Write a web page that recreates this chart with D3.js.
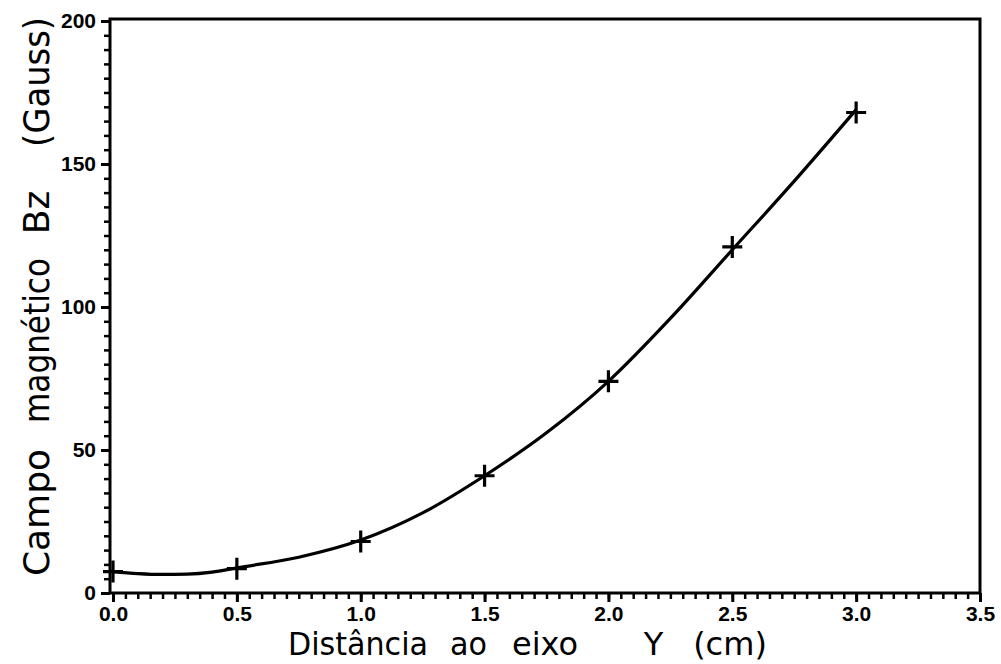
<!DOCTYPE html>
<html><head><meta charset="utf-8">
<script src="https://cdn.jsdelivr.net/npm/d3@7"></script>
<style>body{margin:0;background:#fff}svg{display:block}</style>
</head><body>
<svg id="c" width="1001" height="664"></svg>
<script>
// Data
const pointsX = [0.0, 0.5, 1.0, 1.5, 2.0, 2.5, 3.0];
const pointsY = [7.5, 8.5, 18, 41, 74, 121, 168];
const curveX = [0.0, 0.1, 0.2, 0.3, 0.4, 0.5, 0.75, 1.0, 1.25, 1.5, 1.75, 2.0, 2.25, 2.5, 2.75, 3.0];
const curveY = [7.5, 6.8, 6.5, 6.6, 7.3, 8.8, 12.5, 18.5, 28, 41, 56, 74, 96, 120, 144, 169];
const xTicks = [0.0, 0.5, 1.0, 1.5, 2.0, 2.5, 3.0, 3.5];
const yTicks = [0, 50, 100, 150, 200];
const xLabelWords = ["Distância", "ao", "eixo", "Y", "(cm)"];
const yLabelWords = ["Campo", "magnético", "Bz", "(Gauss)"];

const svg = d3.select("#c");
const L = 110, R = 980, T = 19, B = 593;
const x = d3.scaleLinear().domain([0, 3.5]).range([L + 3, R]);
const y = d3.scaleLinear().domain([0, 200]).range([B, T + 2]);

const xMinor = d3.range(0, 3.5001, 0.05);
const yMinor = d3.range(0, 200.001, 5);

const g = svg.append("g");
g.append("rect").attr("x", L).attr("y", T).attr("width", R - L).attr("height", B - T)
  .attr("fill", "none").attr("stroke", "#000").attr("stroke-width", 3);

const tickFont = "Liberation Sans, Arial, sans-serif";
// x axis
g.append("g").attr("transform", `translate(0,${B})`)
  .call(d3.axisBottom(x).tickValues(xMinor).tickSize(6).tickFormat(""))
  .call(s => s.select(".domain").remove())
  .selectAll("line").attr("stroke-width", 2.5);
g.append("g").attr("transform", `translate(0,${B})`)
  .call(d3.axisBottom(x).tickValues(xTicks).tickSize(9).tickPadding(4).tickFormat(d3.format(".1f")))
  .call(s => s.select(".domain").remove())
  .call(s => s.selectAll("line").attr("stroke-width", 3))
  .call(s => s.selectAll("text").attr("font-size", 21).attr("font-weight", "bold")
     .attr("font-family", tickFont).attr("fill", "#000"));

// y axis
g.append("g").attr("transform", `translate(${L},0)`)
  .call(d3.axisLeft(y).tickValues(yMinor).tickSize(6).tickFormat(""))
  .call(s => s.select(".domain").remove())
  .selectAll("line").attr("stroke-width", 2.5);
g.append("g").attr("transform", `translate(${L},0)`)
  .call(d3.axisLeft(y).tickValues(yTicks).tickSize(9).tickPadding(5).tickFormat(d3.format("d")))
  .call(s => s.select(".domain").remove())
  .call(s => s.selectAll("line").attr("stroke-width", 3))
  .call(s => s.selectAll("text").attr("font-size", 21).attr("font-weight", "bold")
     .attr("font-family", tickFont).attr("fill", "#000"));

// curve
const line = d3.line().x(d => x(d[0])).y(d => y(d[1])).curve(d3.curveMonotoneX);
g.append("path").datum(curveX.map((v, i) => [v, curveY[i]]))
  .attr("d", line).attr("fill", "none").attr("stroke", "#000").attr("stroke-width", 3.2);

// markers
const pts = pointsX.map((v, i) => [v, pointsY[i]]);
g.append("g").selectAll("path").data(pts).join("path")
  .attr("transform", d => `translate(${x(d[0])},${y(d[1])})`)
  .attr("d", "M-10,0H10M0,-11V11").attr("stroke", "#000").attr("stroke-width", 3.2);

// fit word into its slot: compress if too wide, otherwise center it in the slot
function fitWord(sel, pos, lens) {
  sel.each(function (d, i) {
    const w = this.getComputedTextLength();
    const t = d3.select(this);
    if (w > lens[i]) t.attr("textLength", lens[i]).attr("lengthAdjust", "spacingAndGlyphs");
    else t.attr("x", pos[i] + (lens[i] - w) / 2);
  });
}

// axis titles
const titleFont = "DejaVu Sans, sans-serif";
const xPos = [288, 450, 510, 637, 680];
const xLen = [140, 37, 70, 33, 100];
svg.append("g").selectAll("text").data(xLabelWords).join("text")
  .attr("x", (d, i) => xPos[i]).attr("y", 655)
  .attr("font-family", titleFont).attr("font-size", 32).attr("fill", "#000").text(d => d)
  .call(fitWord, xPos, xLen);

const yPos = [2, 157, 340, 433];
const yLen = [131, 165, 55, 130];
svg.append("g").attr("transform", "translate(49,580) rotate(-90)")
  .selectAll("text").data(yLabelWords).join("text")
  .attr("x", (d, i) => yPos[i]).attr("y", 0)
  .attr("font-family", titleFont).attr("font-size", 36).attr("fill", "#000").text(d => d)
  .call(fitWord, yPos, yLen);
</script>
</body></html>
